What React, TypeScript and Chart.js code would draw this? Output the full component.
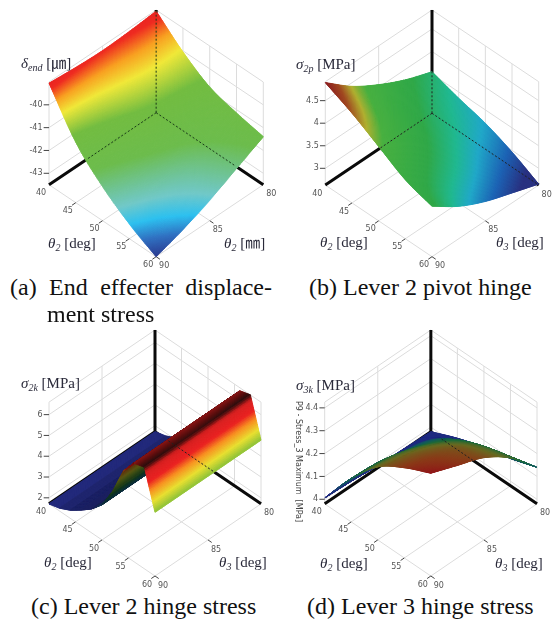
import React, { useEffect, useRef } from "react";
import Chart from "chart.js/auto";

// ---------- data ----------
const theta2Ticks = [40, 45, 50, 55, 60];
const theta3Ticks = [80, 85, 90];

const theta2Coarse = [40, 45, 50, 55, 60];
const theta3Coarse = [80, 82.5, 85, 87.5, 90];

const endDisplacement = [
  [-39.05, -39.15, -39.2, -39.15, -39.05],
  [-40.05, -40.05, -40.2, -40.5, -40.85],
  [-40.8, -41.0, -41.2, -41.6, -42.0],
  [-41.15, -41.6, -42.1, -42.5, -42.85],
  [-41.4, -42.0, -42.6, -43.1, -43.5],
];
const endTicks = [-43, -42, -41, -40];

const pivotStress = [
  [3.55, 3.77, 4.06, 4.42, 4.9],
  [3.36, 3.58, 3.85, 4.2, 4.62],
  [3.2, 3.4, 3.65, 3.95, 4.28],
  [2.96, 3.15, 3.4, 3.65, 3.94],
  [2.65, 2.85, 3.06, 3.35, 3.75],
];
const pivotTicks = [3, 3.5, 4, 4.5];

const theta2Fine = [40, 42, 44, 46, 48, 50, 52, 54, 56, 58, 60];
const theta3Hinge = [80, 85, 90];
const hingeStress = [
  [1.71, 1.71, 1.71],
  [1.85, 1.85, 1.85],
  [2.1, 2.1, 2.1],
  [2.45, 2.45, 2.45],
  [2.85, 2.85, 2.85],
  [3.4, 3.4, 3.4],
  [4.4, 4.4, 4.4],
  [5.71, 5.71, 5.71],
  [6.45, 6.45, 6.45],
  [6.6, 6.58, 6.6],
  [4.77, 4.77, 4.77],
];
const hingeTicks = [2, 3, 4, 5, 6];

const lever3Stress = [
  [3.98, 3.985, 3.99, 4.0, 4.006],
  [4.03, 4.1, 4.13, 4.16, 4.17],
  [4.07, 4.18, 4.24, 4.28, 4.3],
  [4.1, 4.23, 4.31, 4.35, 4.375],
  [4.14, 4.26, 4.34, 4.385, 4.43],
];
const lever3Ticks = [4, 4.1, 4.2, 4.3, 4.4];

// ---------- panel set-up ----------
type Stop = [number, string];
const panels: any[] = [
  {
    t2: theta2Coarse, t3: theta3Coarse, z: endDisplacement, zTicks: endTicks, zMin: -43.5, zMax: -39,
    canvas: { x: 0, y: 0, w: 277, h: 272 }, box: { l: 49, r: 263.3, t: 10, b: 256.7 }, wall: 102.7,
    smooth: true, shade: 0,
    stops: [[0, "#2a3a90"], [0.07, "#2f6fc0"], [0.14, "#2cc0ef"], [0.22, "#70c8c8"], [0.42, "#6cbc4c"], [0.63, "#72bc40"], [0.78, "#f0e838"], [0.87, "#f8a020"], [0.95, "#ee2a20"], [1, "#e82020"]] as Stop[],
    dashVert: [0, 1], dashLeft: [0, 0.65], dashRight: [0, 0.74], dashColor: "#1a3a1a",
  },
  {
    t2: theta2Coarse, t3: theta3Coarse, z: pivotStress, zTicks: pivotTicks, zMin: 2.63, zMax: 4.92,
    canvas: { x: 277, y: 0, w: 277, h: 272 }, box: { l: 325.3, r: 538.7, t: 10, b: 256.7 }, wall: 103.3,
    smooth: true, shade: 0,
    stops: [[0, "#283080"], [0.07, "#283080"], [0.16, "#1c62b4"], [0.26, "#20a8c8"], [0.35, "#20b890"], [0.47, "#30a848"], [0.7, "#48b040"], [0.79, "#b0b030"], [0.89, "#a04820"], [1, "#8a1a20"]] as Stop[],
    dashVert: [0, 0.4], dashLeft: [0, 0.5], dashRight: [0, 1], dashColor: "#222222",
  },
  {
    t2: theta2Fine, t3: theta3Hinge, z: hingeStress, zTicks: hingeTicks, zMin: 1.71, zMax: 6.6,
    canvas: { x: 0, y: 320, w: 277, h: 272 }, box: { l: 49, r: 261, t: 330, b: 576 }, wall: 101.7,
    smooth: false, shade: 0.6,
    stops: [[0, "#283090"], [0.25, "#283090"], [0.38, "#1a6a80"], [0.5, "#2a7a40"], [0.62, "#88c038"], [0.71, "#e8e030"], [0.8, "#f89020"], [0.87, "#ea2020"], [0.955, "#d82020"], [0.985, "#6a1010"], [1, "#301010"]] as Stop[],
    dashVert: null, dashLeft: null, dashRight: [0.126, 0.55], dashColor: "#222222",
  },
  {
    t2: theta2Coarse, t3: theta3Coarse, z: lever3Stress, zTicks: lever3Ticks, zMin: 3.98, zMax: 4.425,
    canvas: { x: 277, y: 320, w: 277, h: 272 }, box: { l: 324.7, r: 537, t: 330, b: 576 }, wall: 101.7,
    smooth: true, shade: 0,
    stops: [[0, "#1e2a80"], [0.12, "#1e2a80"], [0.35, "#105a60"], [0.55, "#206a38"], [0.72, "#6a6a20"], [0.87, "#8a3a18"], [1, "#901818"]] as Stop[],
    dashVert: null, dashLeft: null, dashRight: [0.1, 0.4], dashColor: "#222222",
  },
];

// ---------- projection ----------
const riseOf = (p: any) => ((p.box.b - p.box.t - p.wall) / 2) / p.wall;
const proj = (p: any, u: number, v: number, zf: number) => ({ x: u - v, y: zf - (u + v) * riseOf(p) });
const uOf = (t: number) => (t - 40) / 20;
const vOf = (t: number) => (t - 80) / 10;
const zfOf = (p: any, z: number) => (z - p.zMin) / (p.zMax - p.zMin);
const GAP = { x: NaN, y: NaN };

const gridPoints = (p: any) => {
  const pts: any[] = [];
  const seg = (a: any, b: any) => pts.push(a, b, GAP);
  const levels = [...p.zTicks.map((t: number) => zfOf(p, t)), 1];
  for (const f of levels) {
    seg(proj(p, 0, 0, f), proj(p, 1, 0, f));
    seg(proj(p, 0, 0, f), proj(p, 0, 1, f));
  }
  for (const t of theta2Ticks.slice(1)) {
    const u = uOf(t);
    seg(proj(p, u, 0, 0), proj(p, u, 0, 1));
    seg(proj(p, u, 0, 0), proj(p, u, 1, 0));
  }
  for (const t of theta3Ticks.slice(1)) {
    const v = vOf(t);
    seg(proj(p, 0, v, 0), proj(p, 0, v, 1));
    seg(proj(p, 0, v, 0), proj(p, 1, v, 0));
  }
  return pts;
};
const tickPoints = (p: any) => {
  const pts: any[] = [];
  const seg = (a: any, b: any) => pts.push(a, b, GAP);
  for (const t of theta2Ticks.slice(1)) seg(proj(p, uOf(t), 1, 0), proj(p, uOf(t), 1.035, 0));
  for (const t of theta3Ticks.slice(1)) seg(proj(p, 1, vOf(t), 0), proj(p, 1.035, vOf(t), 0));
  for (const t of p.zTicks) {
    const q = proj(p, 0, 1, zfOf(p, t));
    seg(q, { x: q.x - 0.05, y: q.y });
  }
  return pts;
};
const thickPoints = (p: any) => [
  proj(p, 0, 0, 1), proj(p, 0, 0, 0), GAP,
  proj(p, 0, 0, 0), proj(p, 0, 1, 0), GAP,
  proj(p, 0, 0, 0), proj(p, 1, 0, 0),
];
const dashPoints = (p: any) => {
  const pts: any[] = [];
  if (p.dashVert) pts.push(proj(p, 0, 0, p.dashVert[0]), proj(p, 0, 0, p.dashVert[1]), GAP);
  if (p.dashLeft) pts.push(proj(p, 0, p.dashLeft[0], 0), proj(p, 0, p.dashLeft[1], 0), GAP);
  if (p.dashRight) pts.push(proj(p, p.dashRight[0], 0, 0), proj(p, p.dashRight[1], 0, 0));
  return pts;
};

// ---------- surface sampling ----------
const cr = (a: number, b: number, c: number, d: number, t: number) =>
  0.5 * (2 * b + (c - a) * t + (2 * a - 5 * b + 4 * c - d) * t * t + (3 * b - a - 3 * c + d) * t * t * t);
const interp = (arr: number[], s: number, smooth: boolean) => {
  const n = arr.length - 1;
  const i = Math.min(Math.floor(s * n), n - 1);
  const t = s * n - i;
  if (!smooth) return arr[i] + (arr[i + 1] - arr[i]) * t;
  const g = (k: number) => {
    if (k < 0) return 2 * arr[0] - arr[1];
    if (k > n) return 2 * arr[n] - arr[n - 1];
    return arr[k];
  };
  return cr(g(i - 1), g(i), g(i + 1), g(i + 2), t);
};
const sampleZ = (p: any, u: number, v: number) => {
  const col = p.z.map((row: number[]) => interp(row, v, p.smooth));
  return interp(col, u, p.smooth);
};
const hex = (h: string) => [1, 3, 5].map((i) => parseInt(h.slice(i, i + 2), 16));
const colorAt = (p: any, f: number, dim: number) => {
  const s: Stop[] = p.stops;
  let c = hex(s[s.length - 1][1]);
  if (f <= s[0][0]) c = hex(s[0][1]);
  else
    for (let i = 0; i < s.length - 1; i++) {
      if (f >= s[i][0] && f <= s[i + 1][0]) {
        const t = (f - s[i][0]) / (s[i + 1][0] - s[i][0]);
        const a = hex(s[i][1]);
        const b = hex(s[i + 1][1]);
        c = a.map((x, k) => x + (b[k] - x) * t);
        break;
      }
    }
  return `rgb(${c.map((x) => Math.round(x * dim)).join(",")})`;
};

const surfacePlugin = {
  id: "surface",
  afterDatasetDraw(chart: any, args: any, opts: any) {
    if (chart.data.datasets[args.index].label !== "surface") return;
    const p = opts.panel;
    const { x: sx, y: sy } = chart.scales;
    const ctx = chart.ctx;
    const NU = 240;
    const NV = 120;
    const zs: number[][] = [];
    for (let i = 0; i <= NU; i++) {
      zs.push([]);
      for (let j = 0; j <= NV; j++) zs[i].push(zfOf(p, sampleZ(p, i / NU, j / NV)));
    }
    const P = (i: number, j: number) => {
      const q = proj(p, i / NU, j / NV, zs[i][j]);
      return [sx.getPixelForValue(q.x), sy.getPixelForValue(q.y)];
    };
    const quads: number[][] = [];
    for (let i = 0; i < NU; i++) for (let j = 0; j < NV; j++) quads.push([i, j, i / NU + j / NV]);
    quads.sort((a, b) => a[2] - b[2]);
    ctx.save();
    ctx.lineWidth = 1;
    ctx.lineJoin = "round";
    for (const [i, j] of quads) {
      const f = (zs[i][j] + zs[i + 1][j] + zs[i][j + 1] + zs[i + 1][j + 1]) / 4;
      const slope = (zs[i + 1][j] - zs[i][j]) * NU;
      const dim = p.shade ? 1 / (1 + p.shade * Math.max(0, slope)) : 1;
      const col = colorAt(p, f, dim);
      ctx.fillStyle = col;
      ctx.strokeStyle = col;
      const a = P(i, j), b = P(i + 1, j), c = P(i + 1, j + 1), d = P(i, j + 1);
      ctx.beginPath();
      ctx.moveTo(a[0], a[1]);
      ctx.lineTo(b[0], b[1]);
      ctx.lineTo(c[0], c[1]);
      ctx.lineTo(d[0], d[1]);
      ctx.closePath();
      ctx.fill();
      ctx.stroke();
    }
    ctx.restore();
  },
  afterDraw(chart: any, _a: any, opts: any) {
    const p = opts.panel;
    const { x: sx, y: sy } = chart.scales;
    const ctx = chart.ctx;
    ctx.save();
    ctx.font = "8px 'DejaVu Sans'";
    ctx.fillStyle = "#555555";
    ctx.textBaseline = "middle";
    ctx.textAlign = "center";
    const at = (q: any) => [sx.getPixelForValue(q.x), sy.getPixelForValue(q.y)];
    for (const t of theta2Ticks) {
      const [x, y] = at(proj(p, uOf(t), 1, 0));
      ctx.fillText(String(t), x - 8, y + 8.5);
    }
    for (const t of theta3Ticks) {
      const [x, y] = at(proj(p, 1, vOf(t), 0));
      ctx.fillText(String(t), x + 8, y + 9.5);
    }
    ctx.textAlign = "right";
    for (const t of p.zTicks) {
      const [x, y] = at(proj(p, 0, 1, zfOf(p, t)));
      ctx.fillText(String(t), x - 6.5, y);
    }
    ctx.restore();
  },
};

const line = (label: string, data: any[], color: string, width: number, order: number, dash: number[] = []) => ({
  label, data, order, showLine: true, borderColor: color, borderWidth: width, borderDash: dash,
  pointRadius: 0, spanGaps: false, clip: false, tension: 0, fill: false,
});

const Panel = ({ p }: { p: any }) => {
  const ref = useRef<HTMLCanvasElement>(null);
  useEffect(() => {
    const surfaceGrid: any[] = [];
    p.z.forEach((row: number[], i: number) =>
      row.forEach((z: number, j: number) => surfaceGrid.push(proj(p, uOf(p.t2[i]), vOf(p.t3[j]), zfOf(p, z))))
    );
    const chart = new Chart(ref.current as any, {
      type: "scatter",
      data: {
        datasets: [
          line("grid", gridPoints(p), "#dcdcdc", 1, 6),
          line("ticks", tickPoints(p), "#444444", 1, 5),
          line("axes", thickPoints(p), "#0a0a0a", 3, 4),
          { ...line("surface", surfaceGrid, "rgba(0,0,0,0)", 0, 3), showLine: false },
          line("hidden axes", dashPoints(p), p.dashColor, 1, 1, [2, 2]),
        ] as any,
      },
      options: {
        animation: false,
        responsive: false,
        events: [],
        layout: {
          padding: {
            left: p.box.l - p.canvas.x,
            right: p.canvas.x + p.canvas.w - p.box.r,
            top: p.box.t - p.canvas.y,
            bottom: p.canvas.y + p.canvas.h - p.box.b,
          },
        },
        scales: {
          x: { type: "linear", display: false, min: -1, max: 1 },
          y: { type: "linear", display: false, min: -2 * riseOf(p), max: 1 },
        },
        plugins: { legend: { display: false }, tooltip: { enabled: false }, surface: { panel: p } } as any,
      },
      plugins: [surfacePlugin as any],
    });
    return () => chart.destroy();
  }, [p]);
  return (
    <canvas
      ref={ref}
      width={p.canvas.w}
      height={p.canvas.h}
      style={{ position: "absolute", left: p.canvas.x, top: p.canvas.y, width: p.canvas.w, height: p.canvas.h }}
    />
  );
};

const SERIF = "'Liberation Serif','Noto Sans CJK KR',serif";
const Lab = ({ x, y, sym, sub, unit }: { x: number; y: number; sym: string; sub: string; unit: string }) => (
  <div style={{ position: "absolute", left: x, top: y - 9, lineHeight: "18px", fontFamily: SERIF, fontSize: 15, color: "#2a2a3a", whiteSpace: "nowrap" }}>
    <i>{sym}</i>
    <i style={{ fontSize: 10, position: "relative", top: 3 }}>{sub}</i> [{unit}]
  </div>
);
const Cap = ({ x, y, text, w }: { x: number; y: number; text: string; w?: number }) => (
  <div style={{ position: "absolute", left: x, top: y - 14, width: w, lineHeight: "28px", fontFamily: SERIF, fontSize: 24, color: "#111", whiteSpace: "nowrap", textAlign: w ? "justify" : undefined, textAlignLast: w ? "justify" : undefined } as any}>
    {text}
  </div>
);

export default function App() {
  return (
    <div style={{ position: "absolute", left: 0, top: 0, width: 554, height: 624, background: "#fff", overflow: "hidden" }}>
      {panels.map((p, i) => <Panel key={i} p={p} />)}
      <Lab x={21} y={63} sym="δ" sub="end" unit="㎛" />
      <Lab x={48} y={243} sym="θ" sub="2" unit="deg" />
      <Lab x={224} y={243} sym="θ" sub="2" unit="㎜" />
      <Lab x={296} y={64} sym="σ" sub="2p" unit="MPa" />
      <Lab x={320} y={242} sym="θ" sub="2" unit="deg" />
      <Lab x={496} y={242} sym="θ" sub="3" unit="deg" />
      <Lab x={21} y={383} sym="σ" sub="2k" unit="MPa" />
      <Lab x={44} y={562} sym="θ" sub="2" unit="deg" />
      <Lab x={219} y={562} sym="θ" sub="3" unit="deg" />
      <Lab x={296} y={385} sym="σ" sub="3k" unit="MPa" />
      <Lab x={320} y={563} sym="θ" sub="2" unit="deg" />
      <Lab x={495} y={563} sym="θ" sub="3" unit="deg" />
      <div style={{ position: "absolute", left: 293, top: 401, writingMode: "vertical-rl", fontFamily: "'DejaVu Sans'", fontSize: 8, color: "#444", whiteSpace: "nowrap", lineHeight: "10px" }}>
        P9 - Stress_3 Maximum&nbsp;&nbsp;[MPa]
      </div>
      <Cap x={10} y={287} w={262} text="(a) End effecter displace-" />
      <Cap x={47} y={314} text="ment stress" />
      <Cap x={309} y={287} text="(b) Lever 2 pivot hinge" />
      <Cap x={31} y={606} text="(c) Lever 2 hinge stress" />
      <Cap x={307} y={606} text="(d) Lever 3 hinge stress" />
    </div>
  );
}
